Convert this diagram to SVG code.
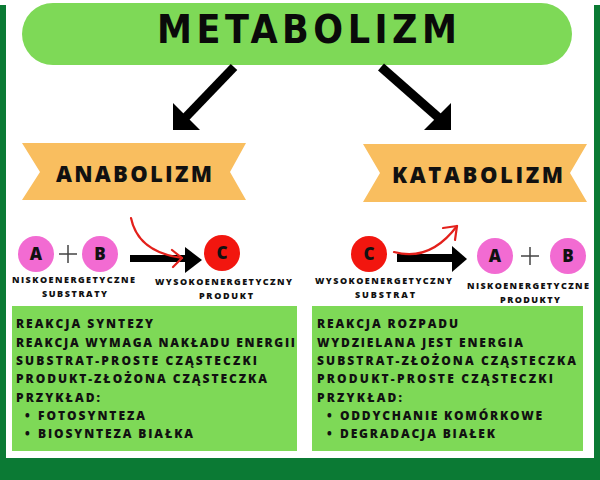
<svg xmlns="http://www.w3.org/2000/svg" width="600" height="480" viewBox="0 0 600 480">
<style>
.frame{fill:#0b7a34}
.lg{fill:#7ed957}
.ban{fill:#f9be5f}
.pink{fill:#f26bd2}
.red{fill:#f2160f}
.t{font-family:"Open Sans","DejaVu Sans",sans-serif;font-weight:800;fill:#111}
.title{font-family:"DejaVu Sans Condensed","DejaVu Sans",sans-serif;font-weight:bold;font-stretch:condensed;font-size:39px;fill:#0a0a0a}
.ban-t{font-size:22px}
.lab{font-size:9px;text-anchor:middle}
.box{font-size:12px}
.let{font-size:17px;text-anchor:middle}
.plus{stroke:#444;stroke-width:1.5;fill:none}
.big{stroke:#000;stroke-width:9;fill:none}
.cur{stroke:#e3201b;stroke-width:2.2;fill:none;stroke-linecap:round;stroke-linejoin:round}
</style>
<rect class="frame" x="0" y="5" width="600" height="475"/>
<rect x="6" y="0" width="588" height="458" fill="#fff"/>

<g id="metabolizm">
<rect class="lg" x="22" y="3" width="550" height="62" rx="31"/>
<text class="title" x="157" y="43" textLength="300" lengthAdjust="spacing">METABOLIZM</text>
</g>

<g id="connectors">
<line class="big" x1="234" y1="67" x2="185" y2="118"/>
<polygon points="173,130 173,103 200,130" fill="#000"/>
<line class="big" x1="381" y1="67" x2="439" y2="118"/>
<polygon points="451,130 451,103 424,130" fill="#000"/>
<rect x="130" y="255" width="58" height="7" fill="#000"/>
<polygon points="185,247 202,260 185,273" fill="#000"/>
<path class="cur" d="M131,218 Q138,252 182,258"/>
<polyline class="cur" points="172,250 182,258 173,267"/>
<rect x="397" y="254" width="57" height="8" fill="#000"/>
<polygon points="452,246 467,259 452,272" fill="#000"/>
<path class="cur" d="M394,252 Q430,262 457,226"/>
<polyline class="cur" points="443,228 457,226 455,240"/>
</g>

<g id="anabolizm">
<polygon class="ban" points="22,143 246,143 230,172 246,200 22,200 40,172"/>
<text class="t ban-t" x="56" y="182" textLength="156" lengthAdjust="spacing">ANABOLIZM</text>
</g>

<g id="katabolizm">
<polygon class="ban" points="363,144 587,144 570,173 587,202 363,202 380,173"/>
<text class="t ban-t" x="392" y="183" textLength="171" lengthAdjust="spacing">KATABOLIZM</text>
</g>

<g id="ana-substrates">
<circle class="pink" cx="36" cy="254" r="18"/>
<text class="t let" x="36" y="260">A</text>
<path class="plus" d="M59,254 H77 M68,245 V263"/>
<circle class="pink" cx="100" cy="254" r="18"/>
<text class="t let" x="100" y="260">B</text>
<text class="t lab" x="73.5" y="283" textLength="123" lengthAdjust="spacing">NISKOENERGETYCZNE</text>
<text class="t lab" x="74.5" y="297" textLength="65" lengthAdjust="spacing">SUBSTRATY</text>
</g>

<g id="ana-product">
<circle class="red" cx="222" cy="253" r="18"/>
<text class="t let" x="222" y="259">C</text>
<text class="t lab" x="223.5" y="285" textLength="137" lengthAdjust="spacing">WYSOKOENERGETYCZNY</text>
<text class="t lab" x="226" y="299" textLength="54" lengthAdjust="spacing">PRODUKT</text>
</g>

<g id="kata-substrate">
<circle class="red" cx="369" cy="254" r="18"/>
<text class="t let" x="369" y="260">C</text>
<text class="t lab" x="383.5" y="284" textLength="137" lengthAdjust="spacing">WYSOKOENERGETYCZNY</text>
<text class="t lab" x="385" y="298" textLength="60" lengthAdjust="spacing">SUBSTRAT</text>
</g>

<g id="kata-products">
<circle class="pink" cx="495" cy="256" r="18"/>
<text class="t let" x="495" y="262">A</text>
<path class="plus" d="M521,256 H539 M530,247 V265"/>
<circle class="pink" cx="568" cy="256" r="18"/>
<text class="t let" x="568" y="262">B</text>
<text class="t lab" x="528" y="289" textLength="122" lengthAdjust="spacing">NISKOENERGETYCZNE</text>
<text class="t lab" x="530" y="303" textLength="60" lengthAdjust="spacing">PRODUKTY</text>
</g>

<g id="ana-box">
<rect class="lg" x="12" y="306" width="285" height="145"/>
<text class="t box" x="16" y="328" textLength="137" lengthAdjust="spacing">REAKCJA SYNTEZY</text>
<text class="t box" x="16" y="347" textLength="279" lengthAdjust="spacing">REAKCJA WYMAGA NAKŁADU ENERGII</text>
<text class="t box" x="16" y="365" textLength="241" lengthAdjust="spacing">SUBSTRAT-PROSTE CZĄSTECZKI</text>
<text class="t box" x="16" y="383" textLength="251" lengthAdjust="spacing">PRODUKT-ZŁOŻONA CZĄSTECZKA</text>
<text class="t box" x="16" y="402" textLength="84" lengthAdjust="spacing">PRZYKŁAD:</text>
<text class="t box" x="25" y="420">•</text>
<text class="t box" x="38" y="420" textLength="107" lengthAdjust="spacing">FOTOSYNTEZA</text>
<text class="t box" x="25" y="438">•</text>
<text class="t box" x="38" y="438" textLength="155" lengthAdjust="spacing">BIOSYNTEZA BIAŁKA</text>
</g>

<g id="kata-box">
<rect class="lg" x="312" y="306" width="271" height="145"/>
<text class="t box" x="317" y="328" textLength="141" lengthAdjust="spacing">REAKCJA ROZPADU</text>
<text class="t box" x="317" y="347" textLength="206" lengthAdjust="spacing">WYDZIELANA JEST ENERGIA</text>
<text class="t box" x="317" y="365" textLength="259" lengthAdjust="spacing">SUBSTRAT-ZŁOŻONA CZĄSTECZKA</text>
<text class="t box" x="317" y="383" textLength="236" lengthAdjust="spacing">PRODUKT-PROSTE CZĄSTECZKI</text>
<text class="t box" x="317" y="402" textLength="85" lengthAdjust="spacing">PRZYKŁAD:</text>
<text class="t box" x="327" y="420">•</text>
<text class="t box" x="340" y="420" textLength="202" lengthAdjust="spacing">ODDYCHANIE KOMÓRKOWE</text>
<text class="t box" x="327" y="438">•</text>
<text class="t box" x="340" y="438" textLength="155" lengthAdjust="spacing">DEGRADACJA BIAŁEK</text>
</g>
</svg>
